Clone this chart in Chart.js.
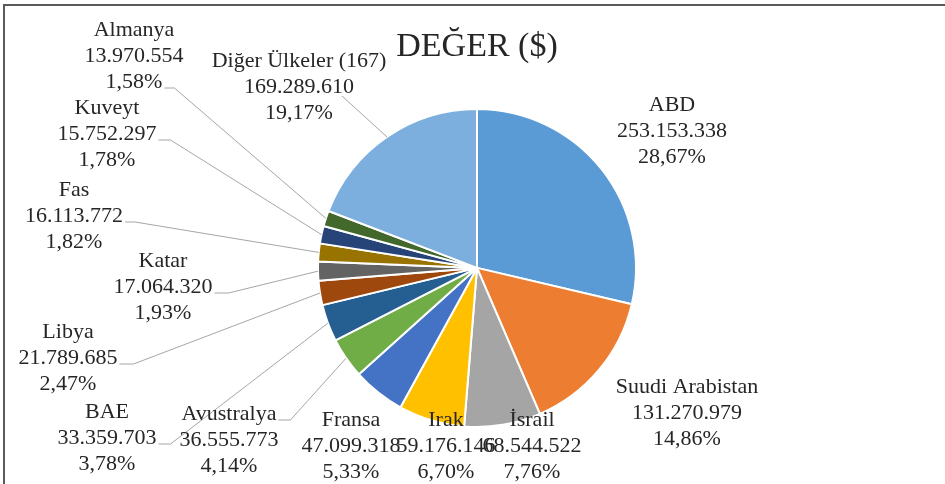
<!DOCTYPE html>
<html lang="tr">
<head>
<meta charset="utf-8">
<title>DEĞER ($)</title>
<script src="https://cdn.jsdelivr.net/npm/chart.js@4.4.1/dist/chart.umd.min.js"></script>
<style>
    html, body { margin: 0; padding: 0; background: #fff; }
    #wrap { position: relative; width: 945px; height: 484px; }
</style>
</head>
<body>
<div id="wrap"><canvas id="pieChart" width="945" height="484"></canvas></div>
<script>
// ========================================
// データ
// ========================================
const countries = ['ABD', 'Suudi Arabistan', 'İsrail', 'Irak', 'Fransa', 'Avustralya', 'BAE',
    'Libya', 'Katar', 'Fas', 'Kuveyt', 'Almanya', 'Diğer Ülkeler (167)'];
const values = [253153338, 131270979, 68544522, 59176146, 47099318, 36555773, 33359703,
    21789685, 17064320, 16113772, 15752297, 13970554, 169289610];
const sliceColors = ['#5B9BD5', '#ED7D31', '#A5A5A5', '#FFC000', '#4472C4', '#70AD47', '#255E91',
    '#9E480E', '#636363', '#997300', '#264478', '#43682B', '#7CAFDD'];

// ラベル配置（テキストブロック中心）と引き出し線の行
const labelPlacement = [
    { x: 672, y: 131 },
    { x: 687, y: 413 },
    { x: 532, y: 446 },
    { x: 446, y: 446 },
    { x: 351, y: 446 },
    { x: 229, y: 440, row: 0, stub: 12 },
    { x: 107, y: 438, row: 1, stub: 12 },
    { x: 68, y: 358, row: 1, stub: 14 },
    { x: 163, y: 287, row: 1, stub: 14 },
    { x: 74, y: 216, row: 1, stub: 10 },
    { x: 107, y: 134, row: 1, stub: 12 },
    { x: 134, y: 56, row: 2, stub: 10 },
    { x: 299, y: 87, row: 1, stub: 0, dx: -14, dy: 3 }
];

const LABEL_FONT = '22px "Liberation Serif", "Times New Roman", serif';
const LINE_GAP = 26;

const total = values.reduce((a, b) => a + b, 0);

// 253153338 -> 253.153.338
function formatNumber(v) {
    return String(v).replace(/\B(?=(\d{3})+(?!\d))/g, '.');
}

function formatPercent(v) {
    return (v / total * 100).toFixed(2).replace('.', ',') + '%';
}

// 枠線
const framePlugin = {
    id: 'frame',
    beforeDraw(chart) {
        const ctx = chart.ctx;
        ctx.save();
        ctx.fillStyle = '#fff';
        ctx.fillRect(0, 0, chart.width, chart.height);
        ctx.strokeStyle = '#5a5a5a';
        ctx.lineWidth = 2;
        ctx.beginPath();
        ctx.moveTo(4, chart.height);
        ctx.lineTo(4, 5);
        ctx.lineTo(chart.width, 5);
        ctx.stroke();
        ctx.restore();
    }
};

// 外側ラベル + 引き出し線
const outsideLabels = {
    id: 'outsideLabels',
    afterDatasetsDraw(chart) {
        const ctx = chart.ctx;
        const arcs = chart.getDatasetMeta(0).data;
        ctx.save();
        ctx.font = LABEL_FONT;

        // 引き出し線
        ctx.strokeStyle = '#a6a6a6';
        ctx.lineWidth = 1;
        arcs.forEach((arc, i) => {
            const place = labelPlacement[i];
            if (place.row === undefined) return;
            const lines = [countries[i], formatNumber(values[i]), formatPercent(values[i])];
            const rowY = place.y + (place.row - 1) * LINE_GAP;
            const w = ctx.measureText(lines[place.row]).width;
            const sx = place.x + w / 2 + 2 + (place.dx || 0);
            const sy = rowY + 6 + (place.dy || 0);
            const p = arc.getProps(['x', 'y', 'startAngle', 'endAngle', 'outerRadius'], true);
            const mid = (p.startAngle + p.endAngle) / 2;
            const ex = p.x + Math.cos(mid) * p.outerRadius;
            const ey = p.y + Math.sin(mid) * p.outerRadius;
            ctx.beginPath();
            ctx.moveTo(sx, sy);
            ctx.lineTo(sx + place.stub, sy);
            ctx.lineTo(ex, ey);
            ctx.stroke();
        });

        // テキスト
        ctx.fillStyle = '#262626';
        ctx.textAlign = 'center';
        ctx.textBaseline = 'middle';
        arcs.forEach((arc, i) => {
            const place = labelPlacement[i];
            const lines = [countries[i], formatNumber(values[i]), formatPercent(values[i])];
            lines.forEach((txt, r) => {
                ctx.fillText(txt, place.x, place.y + (r - 1) * LINE_GAP);
            });
        });
        ctx.restore();
    }
};

new Chart(document.getElementById('pieChart'), {
    type: 'pie',
    data: {
        labels: countries,
        datasets: [{
            data: values,
            backgroundColor: sliceColors,
            borderColor: '#fff',
            borderWidth: 2,
            hoverOffset: 0
        }]
    },
    options: {
        responsive: false,
        animation: false,
        events: [],
        layout: {
            padding: { left: 317, right: 308, top: 0, bottom: 56 }
        },
        plugins: {
            legend: { display: false },
            tooltip: { enabled: false },
            title: {
                display: true,
                text: 'DEĞER ($)',
                color: '#262626',
                font: { family: '"Liberation Serif", "Times New Roman", serif', size: 34, weight: 'normal', lineHeight: 1.2 },
                padding: { top: 27, bottom: 40 }
            }
        }
    },
    plugins: [framePlugin, outsideLabels]
});
</script>
</body>
</html>
